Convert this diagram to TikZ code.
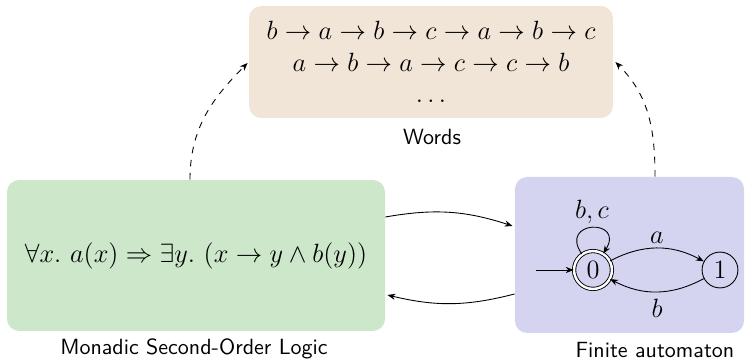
\documentclass[tikz,border=0pt]{standalone}
\usetikzlibrary{automata,arrows.meta,calc,positioning}
\definecolor{wordsfill}{RGB}{241,229,216}
\definecolor{msofill}{RGB}{205,231,203}
\definecolor{fafill}{RGB}{212,212,240}
\begin{document}
\begin{tikzpicture}[x=0.4545pt,y=-0.4545pt,>={Stealth[length=3.6pt,width=2.8pt]},
  bigbox/.style={rounded corners=5.5pt,inner sep=0pt},
  boxlabel/.style={font=\sffamily},
  st/.style={circle,draw,thin,minimum size=16.3pt,inner sep=0pt,font=\large},
  lab/.style={font=\large}]
\useasboundingbox (0,0) rectangle (749,362);
\node[bigbox,fill=wordsfill,minimum width=165.4pt,minimum height=50.9pt,align=center,font=\fontsize{12.2}{14.2}\selectfont] (words) at (431,62)
  {$b\to a\to b\to c\to a\to b\to c$\\ $a\to b\to a\to c\to c\to b$\\ $\dots$};
\node[boxlabel] (wordslab) at (432,137) {Words};
\node[bigbox,fill=msofill,minimum width=171.8pt,minimum height=68.6pt,font=\fontsize{12.2}{14.2}\selectfont] (mso) at (196,255.5)
  {$\forall x.\ a(x)\Rightarrow\exists y.\ (x\to y\land b(y))$};
\node[boxlabel] (msolab) at (194,349) {Monadic Second-Order Logic};
\node[bigbox,fill=fafill,minimum width=104.1pt,minimum height=70.9pt] (fa) at (629.5,255) {};
\node[boxlabel] (falab) at (655,350) {Finite automaton};
% automaton
\node[st,double,double distance=1.1pt,minimum size=17.2pt] (q0) at (593,270) {$0$};
\node[st] (q1) at (720,270) {$1$};
\coordinate (init) at (536,270);
\draw[->] (init) -- (q0);
\draw[->] (q0) to[out=125,in=58,looseness=5] node[lab,above,inner sep=1.5pt] {$b,c$} (q0);
\draw[->] (q0) to[bend left=28] node[lab,above,inner sep=2pt] {$a$} (q1);
\draw[->] (q1) to[bend left=28] node[lab,below,inner sep=3pt] {$b$} (q0);
% between boxes
\draw[->] ($(mso.east)+(0,-38.5)$) to[bend left=14] ($(fa.west)+(-2,-29)$);
\draw[->] ($(fa.west)+(0,39)$) to[bend left=14] ($(mso.east)+(2,39.5)$);
% dashed
\draw[->,dashed] ($(mso.north)+(-6,0)$) to[out=90,in=225] ($(words.west)+(-1,1)$);
\draw[->,dashed] ($(fa.north)+(25.5,0)$) to[out=90,in=-45] ($(words.east)+(2,0)$);
\end{tikzpicture}
\end{document}
